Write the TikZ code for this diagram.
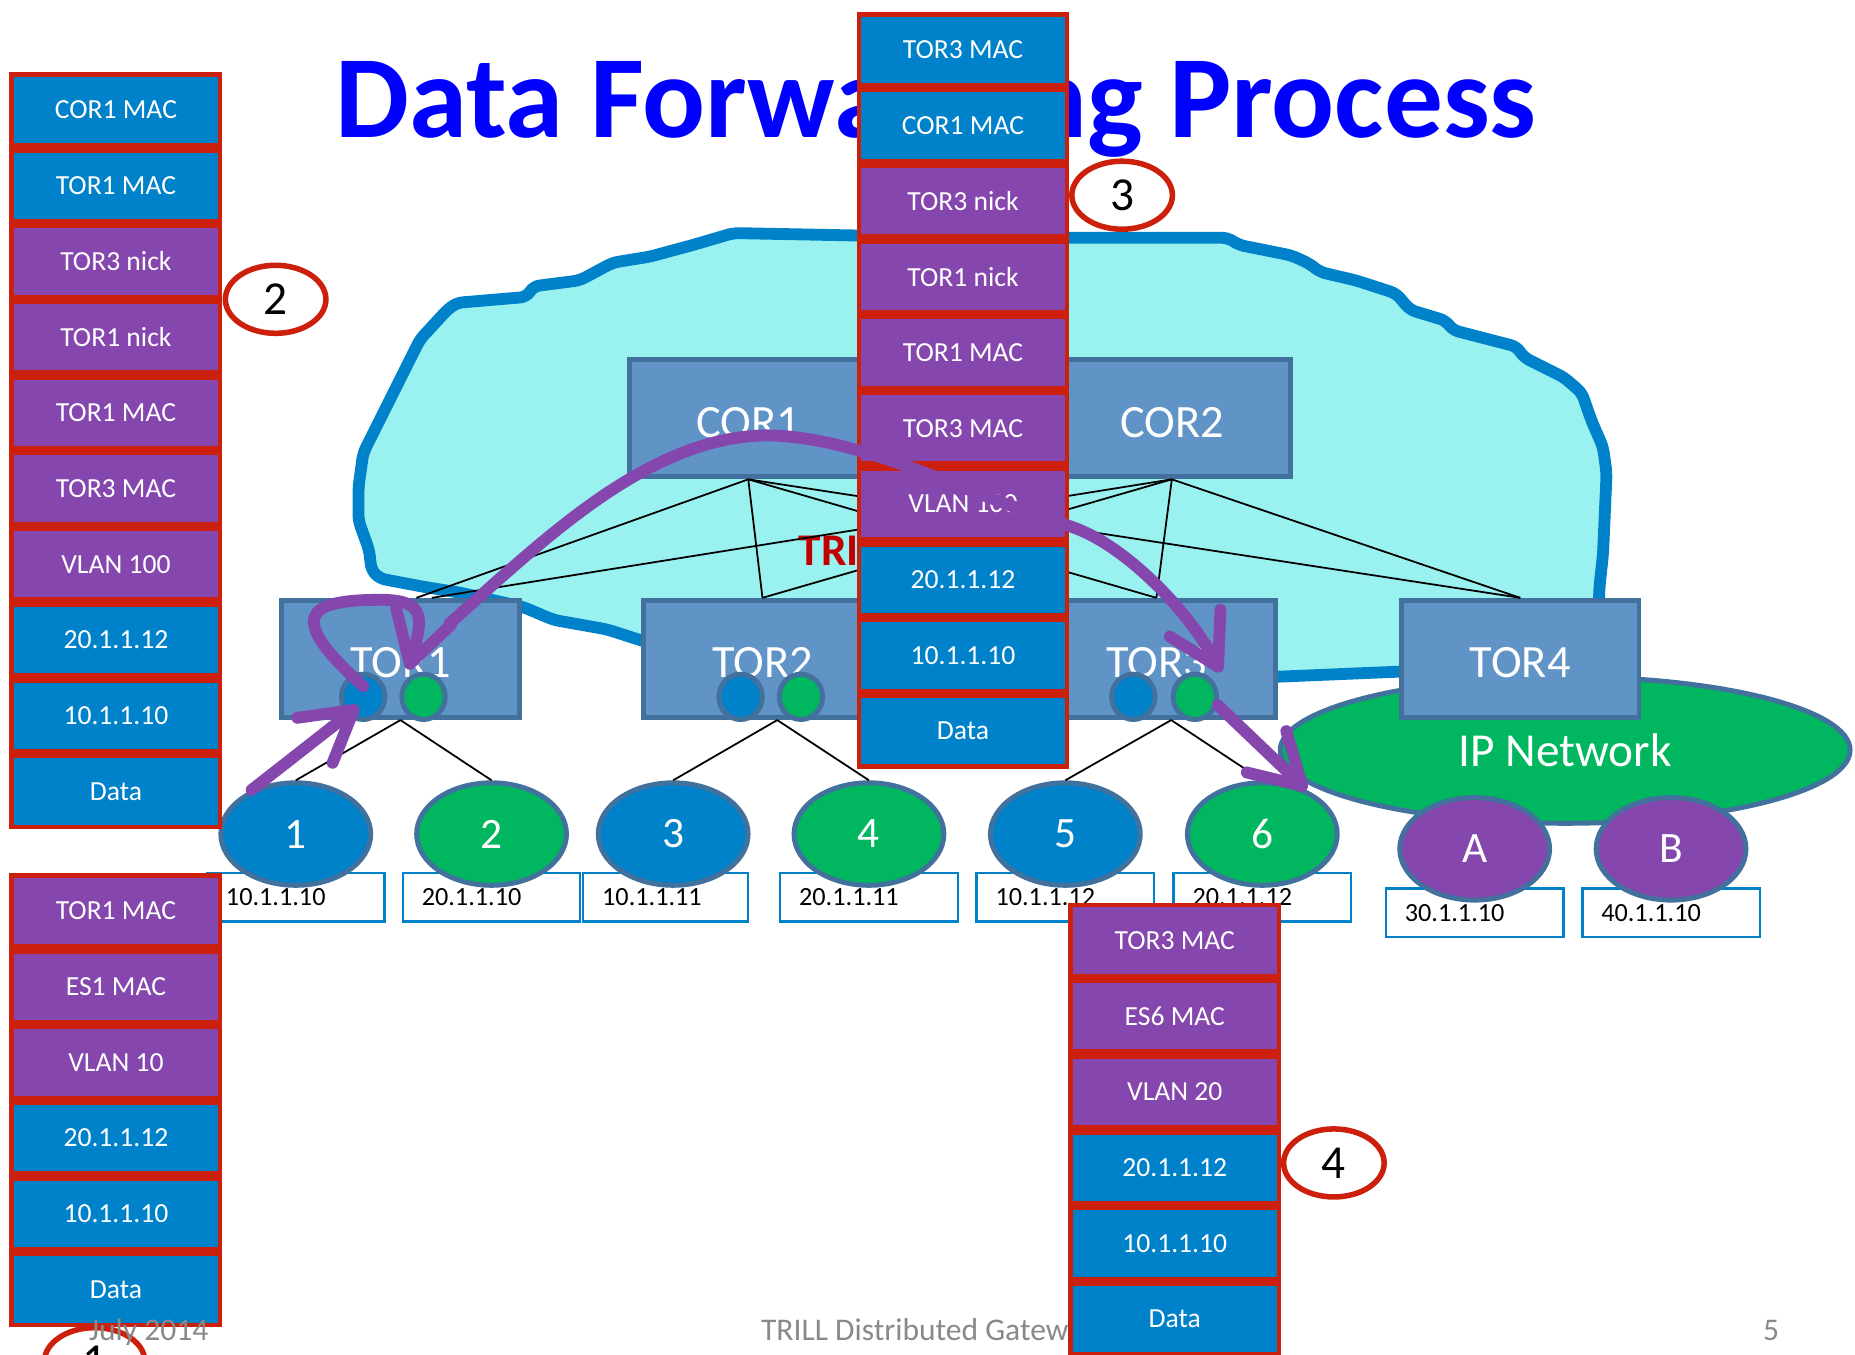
\documentclass[tikz,border=0pt]{standalone}
\usepackage{fontspec}
\setmainfont{Carlito}
\usepackage{tikz}
\usetikzlibrary{calc,shapes.geometric,arrows.meta}
\definecolor{cblue}{RGB}{0,130,202}
\definecolor{cpur}{RGB}{133,71,173}
\definecolor{cred}{RGB}{204,32,12}
\definecolor{cgreen}{RGB}{0,183,96}
\definecolor{swfill}{RGB}{96,148,199}
\definecolor{swline}{RGB}{65,113,156}
\definecolor{cloudfill}{RGB}{153,242,240}
\definecolor{trillred}{RGB}{192,0,0}
\definecolor{footgray}{RGB}{137,137,137}

\begin{document}
\begin{tikzpicture}[x=0.6pt,y=-0.6pt,
cb/.style={draw=cred, line width=2.4pt, fill=cblue, text=white, minimum width=105.6pt, minimum height=36pt, inner sep=0pt, font=\fontsize{14}{16}\selectfont},
cp/.style={cb, fill=cpur},
sw/.style={draw=swline, line width=2.5pt, fill=swfill, text=white, minimum width=120.5pt, minimum height=59.5pt, inner sep=0pt, text height=19.2pt, text depth=0pt, font=\fontsize{23.5}{26}\selectfont},
port/.style={ellipse, draw=swline, line width=2.5pt, minimum width=22pt, minimum height=23pt, inner sep=0pt},
es/.style={ellipse, draw=swline, line width=2.5pt, text=white, minimum width=76pt, minimum height=52pt, inner sep=0pt, font=\fontsize{22}{24}\selectfont},
ip/.style={draw=cblue, line width=1.2pt, fill=white, text width=70.8pt, minimum height=24.6pt, inner xsep=9.6pt, inner ysep=0pt, align=left, font=\fontsize{13.3}{15}\selectfont},
num/.style={ellipse, draw=cred, line width=2.8pt, fill=white, minimum width=51pt, minimum height=34.5pt, inner sep=0pt, font=\fontsize{24}{26}\selectfont},
lk/.style={draw=black, line width=0.9pt},
flow/.style={draw=cpur, line width=6pt, line cap=round, -{Straight Barb[length=25pt,width=29pt,round]}},
foot/.style={text=footgray, anchor=base west, inner sep=0pt, font=\fontsize{16}{18}\selectfont}]
\useasboundingbox (0,0) rectangle (1568,1145);
\clip (0,0) rectangle (1568,1145);
\fill[white] (0,0) rectangle (1568,1145);

\node[anchor=base west, inner sep=0pt, text=blue, font=\fontsize{59.5}{62}\selectfont\bfseries] at (283,116) (title) {Data Forwarding Process};

\draw[draw=cblue, fill=cloudfill, line width=6pt, rounded corners=3pt, line join=round] (620,197) -- (721,199) -- (905,201) -- (1038,201) -- (1047,207) -- (1092,216) -- (1107,223) -- (1116,230) -- (1146,237) -- (1180,248) -- (1192,262) -- (1222,271) -- (1228,279) -- (1282,293) -- (1288,302) -- (1322,319) -- (1337,332) -- (1345,355) -- (1355,378) -- (1358,400) -- (1355,468) -- (1352,496) -- (1350,545) -- (1335,562) -- (1200,567) -- (1080,572) -- (900,575) -- (750,572) -- (600,560) -- (541,541) -- (513,532) -- (468,524) -- (442,513) -- (389,501) -- (358,496) -- (321,489) -- (314,482) -- (312,465) -- (303,440) -- (303,412) -- (307,383) -- (318,361) -- (335,327) -- (349,299) -- (355,287) -- (378,262) -- (386,256) -- (445,251) -- (451,242) -- (490,237) -- (518,222) -- (549,217) -- (586,207) -- cycle;
\node[anchor=base west, inner sep=0pt, text=trillred, font=\fontsize{23}{25}\selectfont\bfseries] at (675,478) (trill) {TRILL};

\node[ellipse, draw=swline, line width=2.5pt, fill=cgreen, text=white, minimum width=289pt, minimum height=74.3pt, inner sep=0pt, font=\fontsize{24}{26}\selectfont] at (1323,634) (ipnet) {IP Network};

\node[sw] at (632.5,353.5) (cor1) {COR1};
\node[sw] at (990.5,353.5) (cor2) {COR2};
\node[sw] at (338.5,557) (tor1) {TOR1};
\node[sw] at (644.5,557) (tor2) {TOR2};
\node[sw] at (977.5,557) (tor3) {TOR3};
\node[sw] at (1285,557) (tor4) {TOR4};
\node[port, fill=cblue] at ([xshift=-18.9pt,yshift=-19.2pt]tor1.center) (t1b) {};
\node[port, fill=cgreen] at ([xshift=11.7pt,yshift=-19.2pt]tor1.center) (t1g) {};
\node[port, fill=cblue] at ([xshift=-11.1pt,yshift=-19.2pt]tor2.center) (t2b) {};
\node[port, fill=cgreen] at ([xshift=19.5pt,yshift=-19.2pt]tor2.center) (t2g) {};
\node[port, fill=cblue] at ([xshift=-11.7pt,yshift=-19.2pt]tor3.center) (t3b) {};
\node[port, fill=cgreen] at ([xshift=19.5pt,yshift=-19.2pt]tor3.center) (t3g) {};

\draw[lk] (cor1.south) -- ([xshift=8.1pt]tor1.north);
\draw[lk] (cor1.south) -- (tor2.north);
\draw[lk] (cor1.south) -- (tor3.north);
\draw[lk] (cor1.south) -- (tor4.north);
\draw[lk] (cor2.south) -- ([xshift=15.9pt]tor1.north);
\draw[lk] (cor2.south) -- (tor2.north);
\draw[lk] (cor2.south) -- (tor3.north);
\draw[lk] (cor2.south) -- (tor4.north);

\node[ip] at (250,758.5) (ip1) {10.1.1.10};
\node[ip] at (415.5,758.5) (ip2) {20.1.1.10};
\node[ip, text width=64.2pt] at (562.5,758.5) (ip3) {10.1.1.11};
\node[ip] at (734.5,758.5) (ip4) {20.1.1.11};
\node[ip] at (900.5,758.5) (ip5) {10.1.1.12};
\node[ip] at (1067,758.5) (ip6) {20.1.1.12};
\node[ip] at (1246.5,771.5) (ipa) {30.1.1.10};
\node[ip] at (1412.5,771.5) (ipb) {40.1.1.10};
\node[es, fill=cblue] at ([yshift=32.1pt]ip1) (es1) {1};
\node[es, fill=cgreen] at ([yshift=32.1pt]ip2) (es2) {2};
\node[es, fill=cblue] at ([xshift=3.9pt,yshift=32.1pt]ip3) (es3) {3};
\node[es, fill=cgreen] at ([yshift=32.1pt]ip4) (es4) {4};
\node[es, fill=cblue] at ([yshift=32.1pt]ip5) (es5) {5};
\node[es, fill=cgreen] at ([yshift=32.1pt]ip6) (es6) {6};
\node[es, fill=cpur] at ([yshift=32.4pt]ipa) (esa) {A};
\node[es, fill=cpur] at ([yshift=32.4pt]ipb) (esb) {B};

\draw[lk] (tor1.south) -- (es1.north);
\draw[lk] (tor1.south) -- (es2.north);
\draw[lk] ([xshift=7.5pt]tor2.south) -- (es3.north);
\draw[lk] ([xshift=7.5pt]tor2.south) -- (es4.north);
\draw[lk] ([xshift=7.5pt]tor3.south) -- (es5.north);
\draw[lk] ([xshift=7.5pt]tor3.south) -- (es6.north);

\node[foot] at (643,1133.5) (ftitle) {TRILL Distributed Gateway};
\node[foot] at (1490,1133.5) (page) {5};

\node[cb] at (98,93) (a1) {COR1 MAC};
\node[cb, anchor=north] at (a1.south) (a2) {TOR1 MAC};
\node[cp, anchor=north] at (a2.south) (a3) {TOR3 nick};
\node[cp, anchor=north] at (a3.south) (a4) {TOR1 nick};
\node[cp, anchor=north] at (a4.south) (a5) {TOR1 MAC};
\node[cp, anchor=north] at (a5.south) (a6) {TOR3 MAC};
\node[cp, anchor=north] at (a6.south) (a7) {VLAN 100};
\node[cb, anchor=north] at (a7.south) (a8) {20.1.1.12};
\node[cb, anchor=north] at (a8.south) (a9) {10.1.1.10};
\node[cb, anchor=north] at (a9.south) (a10) {Data};

\node[cb] at (814,42) (m1) {TOR3 MAC};
\node[cb, anchor=north] at (m1.south) (m2) {COR1 MAC};
\node[cp, anchor=north] at (m2.south) (m3) {TOR3 nick};
\node[cp, anchor=north] at (m3.south) (m4) {TOR1 nick};
\node[cp, anchor=north] at (m4.south) (m5) {TOR1 MAC};
\node[cp, anchor=north] at (m5.south) (m6) {TOR3 MAC};
\node[cp, anchor=north] at (m6.south) (m7) {VLAN 100};
\node[cb, anchor=north] at (m7.south) (m8) {20.1.1.12};
\node[cb, anchor=north] at (m8.south) (m9) {10.1.1.10};
\node[cb, anchor=north] at (m9.south) (m10) {Data};

\node[cp] at (98,770) (b1) {TOR1 MAC};
\node[cp, anchor=north] at (b1.south) (b2) {ES1 MAC};
\node[cp, anchor=north] at (b2.south) (b3) {VLAN 10};
\node[cb, anchor=north] at (b3.south) (b4) {20.1.1.12};
\node[cb, anchor=north] at (b4.south) (b5) {10.1.1.10};
\node[cb, anchor=north] at (b5.south) (b6) {Data};

\node[cp] at (993,795) (d1) {TOR3 MAC};
\node[cp, anchor=north] at (d1.south) (d2) {ES6 MAC};
\node[cp, anchor=north] at (d2.south) (d3) {VLAN 20};
\node[cb, anchor=north] at (d3.south) (d4) {20.1.1.12};
\node[cb, anchor=north] at (d4.south) (d5) {10.1.1.10};
\node[cb, anchor=north] at (d5.south) (d6) {Data};

\node[num] at ([xshift=27pt]a3.south east) (n2) {2};
\node[num] at ([xshift=26.7pt,yshift=3pt]m3.east) (n3) {3};
\node[num] at ([xshift=26.7pt,yshift=2.4pt]d4.east) (n4) {4};
\node[num] at ([xshift=-10.8pt,yshift=-17.4pt]b6.south) (n1) {1};
\node[foot] at (75,1133.5) (date) {July 2014};

\draw[flow] (es1.135) -- ([xshift=-2.4pt,yshift=-4.8pt]t1b.center);
\draw[flow] ([yshift=5.4pt]t1b.center) .. controls (240,520) and (260,507) .. (322,507) .. controls (362,507) and (357,525) .. ([xshift=-7.8pt,yshift=13.8pt]t1g.center);
\draw[flow] ([xshift=13.2pt,yshift=37.2pt]t1g.center) .. controls (462,454) and (550,368) .. (650,368) .. controls (730,370) and (810,415) .. (905,445) .. controls (950,460) and (1004,515) .. ([xshift=13.2pt,yshift=12.6pt]t3g.center);
\draw[flow] (t3g.-20) -- (es6.45);
\end{tikzpicture}
\end{document}
